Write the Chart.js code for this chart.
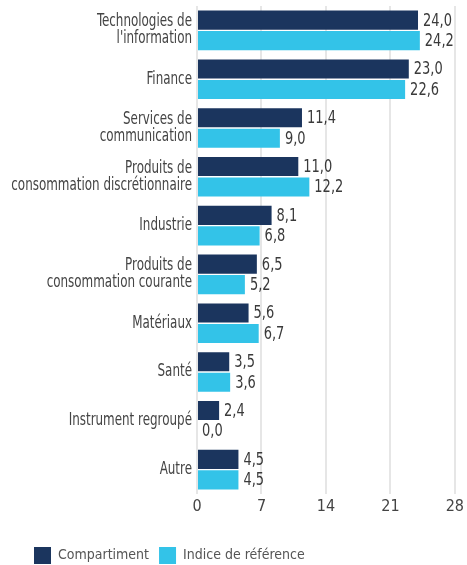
<!DOCTYPE html>
<html>
<head>
<meta charset="utf-8">
<script src="https://cdn.jsdelivr.net/npm/chart.js@4"></script>
<style>
  html, body { margin: 0; padding: 0; background: #fff; }
  #wrap { width: 467px; height: 565px; position: relative; }
</style>
</head>
<body>
<div id="wrap"><canvas id="miGrafico"></canvas></div>
<script>
const categorias = [
    ['Technologies de', "l'information"],
    'Finance',
    ['Services de', 'communication'],
    ['Produits de', 'consommation discrétionnaire'],
    'Industrie',
    ['Produits de', 'consommation courante'],
    'Matériaux',
    'Santé',
    'Instrument regroupé',
    'Autre'
];
const compartiment = [24.0, 23.0, 11.4, 11.0, 8.1, 6.5, 5.6, 3.5, 2.4, 4.5];
const indice = [24.2, 22.6, 9.0, 12.2, 6.8, 5.2, 6.7, 3.6, 0.0, 4.5];
const ticksX = [0, 7, 14, 21, 28];

const fuente = "'Liberation Sans Narrow', 'DejaVu Sans Condensed', sans-serif";
const estrecho = 0.78; // compresion horizontal del texto de categorias
const estrechoVal = 0.85; // idem para los valores

// etiquetas de categoria (texto estrecho) y valores al final de cada barra
const etiquetas = {
    id: 'etiquetas',
    afterDatasetsDraw(chart) {
        const ctx = chart.ctx;
        const escalaY = chart.scales.y;
        const xDer = chart.chartArea.left - 5;
        ctx.save();
        ctx.textBaseline = 'middle';
        ctx.textAlign = 'right';
        ctx.fillStyle = '#444';
        ctx.font = '17px ' + fuente;
        chart.data.labels.forEach((lab, i) => {
            const lineas = Array.isArray(lab) ? lab : [lab];
            const yc = escalaY.getPixelForTick(i);
            const alto = 17;
            lineas.forEach((t, k) => {
                const y = yc + (k - (lineas.length - 1) / 2) * alto;
                ctx.save();
                ctx.scale(estrecho, 1);
                ctx.fillText(t, xDer / estrecho, y);
                ctx.restore();
            });
        });

        ctx.font = '17px ' + fuente;
        ctx.fillStyle = '#3a3a3a';
        ctx.textAlign = 'left';
        chart.data.datasets.forEach((ds, i) => {
            chart.getDatasetMeta(i).data.forEach((bar, j) => {
                ctx.save();
                ctx.scale(estrechoVal, 1);
                ctx.fillText(ds.data[j].toFixed(1).replace('.', ','), (bar.x + 5) / estrechoVal, bar.y + 1);
                ctx.restore();
            });
        });
        ctx.restore();
    }
};

new Chart(document.getElementById('miGrafico'), {
    type: 'bar',
    data: {
        labels: categorias,
        datasets: [
            { label: 'Compartiment', data: compartiment, backgroundColor: '#1b355e' },
            { label: 'Indice de référence', data: indice, backgroundColor: '#33c3e8' }
        ]
    },
    options: {
        indexAxis: 'y',
        responsive: true,
        maintainAspectRatio: false,
        animation: false,
        categoryPercentage: 0.84,
        barPercentage: 0.93,
        layout: { padding: { left: 24, right: 11, top: 6, bottom: -9 } },
        scales: {
            x: {
                min: 0, max: 28,
                afterBuildTicks(scale) { scale.ticks = ticksX.map(v => ({ value: v })); },
                afterFit(scale) { scale.height = 43; },
                grid: { color: '#e6e6e6', lineWidth: 2, drawTicks: false },
                border: { display: false },
                ticks: { color: '#444', padding: 3, font: { family: fuente, size: 16 } }
            },
            y: {
                afterFit(scale) { scale.width = 173; },
                grid: { display: false },
                border: { display: false },
                ticks: { display: false }
            }
        },
        plugins: {
            legend: {
                position: 'bottom',
                align: 'start',
                labels: {
                    boxWidth: 17, boxHeight: 17, padding: 10,
                    color: '#555',
                    font: { family: fuente, size: 14 }
                }
            },
            tooltip: { enabled: false }
        }
    },
    plugins: [etiquetas]
});
</script>
</body>
</html>
